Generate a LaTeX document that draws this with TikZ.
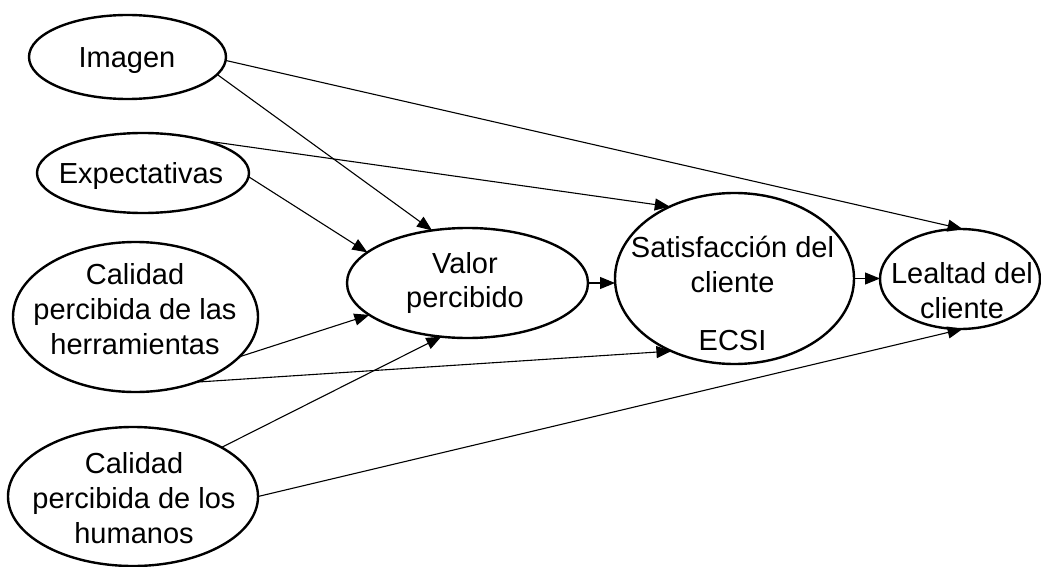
\documentclass[tikz,border=0pt]{standalone}
\usepackage{fontspec}
\setmainfont{Liberation Sans}
\usetikzlibrary{arrows.meta,shapes.geometric}
\begin{document}
\begin{tikzpicture}[x=1pt,y=-1pt,
  oval/.style={draw=black,line width=2.4pt,ellipse,inner sep=0pt,outer sep=0pt},
  txt/.style={align=center,inner sep=0pt,font=\fontsize{29}{35}\selectfont},
  conn/.style={draw=black,line width=1.1pt,-{Triangle[length=15pt,width=12pt]}}]
\useasboundingbox (0,0) rectangle (1041,567);
\clip (0,0) rectangle (1041,567);
% ellipses
\node[oval,minimum width=197pt,minimum height=84pt] (imagen) at (127.5,57) {};
\node[oval,minimum width=212pt,minimum height=80pt] (expect) at (143,173) {};
\node[oval,minimum width=245pt,minimum height=150pt] (herr) at (135.5,317) {};
\node[oval,minimum width=250pt,minimum height=139pt] (hum) at (133,496.5) {};
\node[oval,minimum width=241pt,minimum height=110pt] (valor) at (467.5,283) {};
\node[oval,minimum width=239pt,minimum height=171pt] (sat) at (734.5,278.5) {};
\node[oval,minimum width=160pt,minimum height=100pt] (leal) at (960,279) {};
% texts
\node[txt] (timagen) at (127,61) {Imagen};
\node[txt] (texpect) at (141,176) {Expectativas};
\node[txt] (therr) at (135,309) {Calidad\\percibida de las\\herramientas};
\node[txt] (thum) at (134,498) {Calidad\\percibida de los\\humanos};
\node[txt] (tvalor) at (465,283) {Valor\\percibido};
\node[txt] (tsat) at (732.5,293) {Satisfacción del\\cliente\\[23pt]ECSI};
\node[txt] (tleal) at (962,291) {Lealtad del\\cliente};
% connectors
\draw[conn] (imagen.-2) -- (leal.87);
\draw[conn] (imagen.-11) -- (valor.124);
\draw[conn] (expect.27) -- (sat.132);
\draw[conn] (expect.-2) -- (valor.163);
\draw[conn] (herr.-21) -- (valor.198);
\draw[conn] (herr.-47) -- (sat.229);
\draw[conn] (hum.29) -- (valor.-116);
\draw[conn] (hum.0) -- (leal.-87);
\draw[conn] (valor.east) -- (valor.east -| sat.west);
\draw[conn] (sat.east) -- (sat.east -| leal.west);
\end{tikzpicture}
\end{document}
